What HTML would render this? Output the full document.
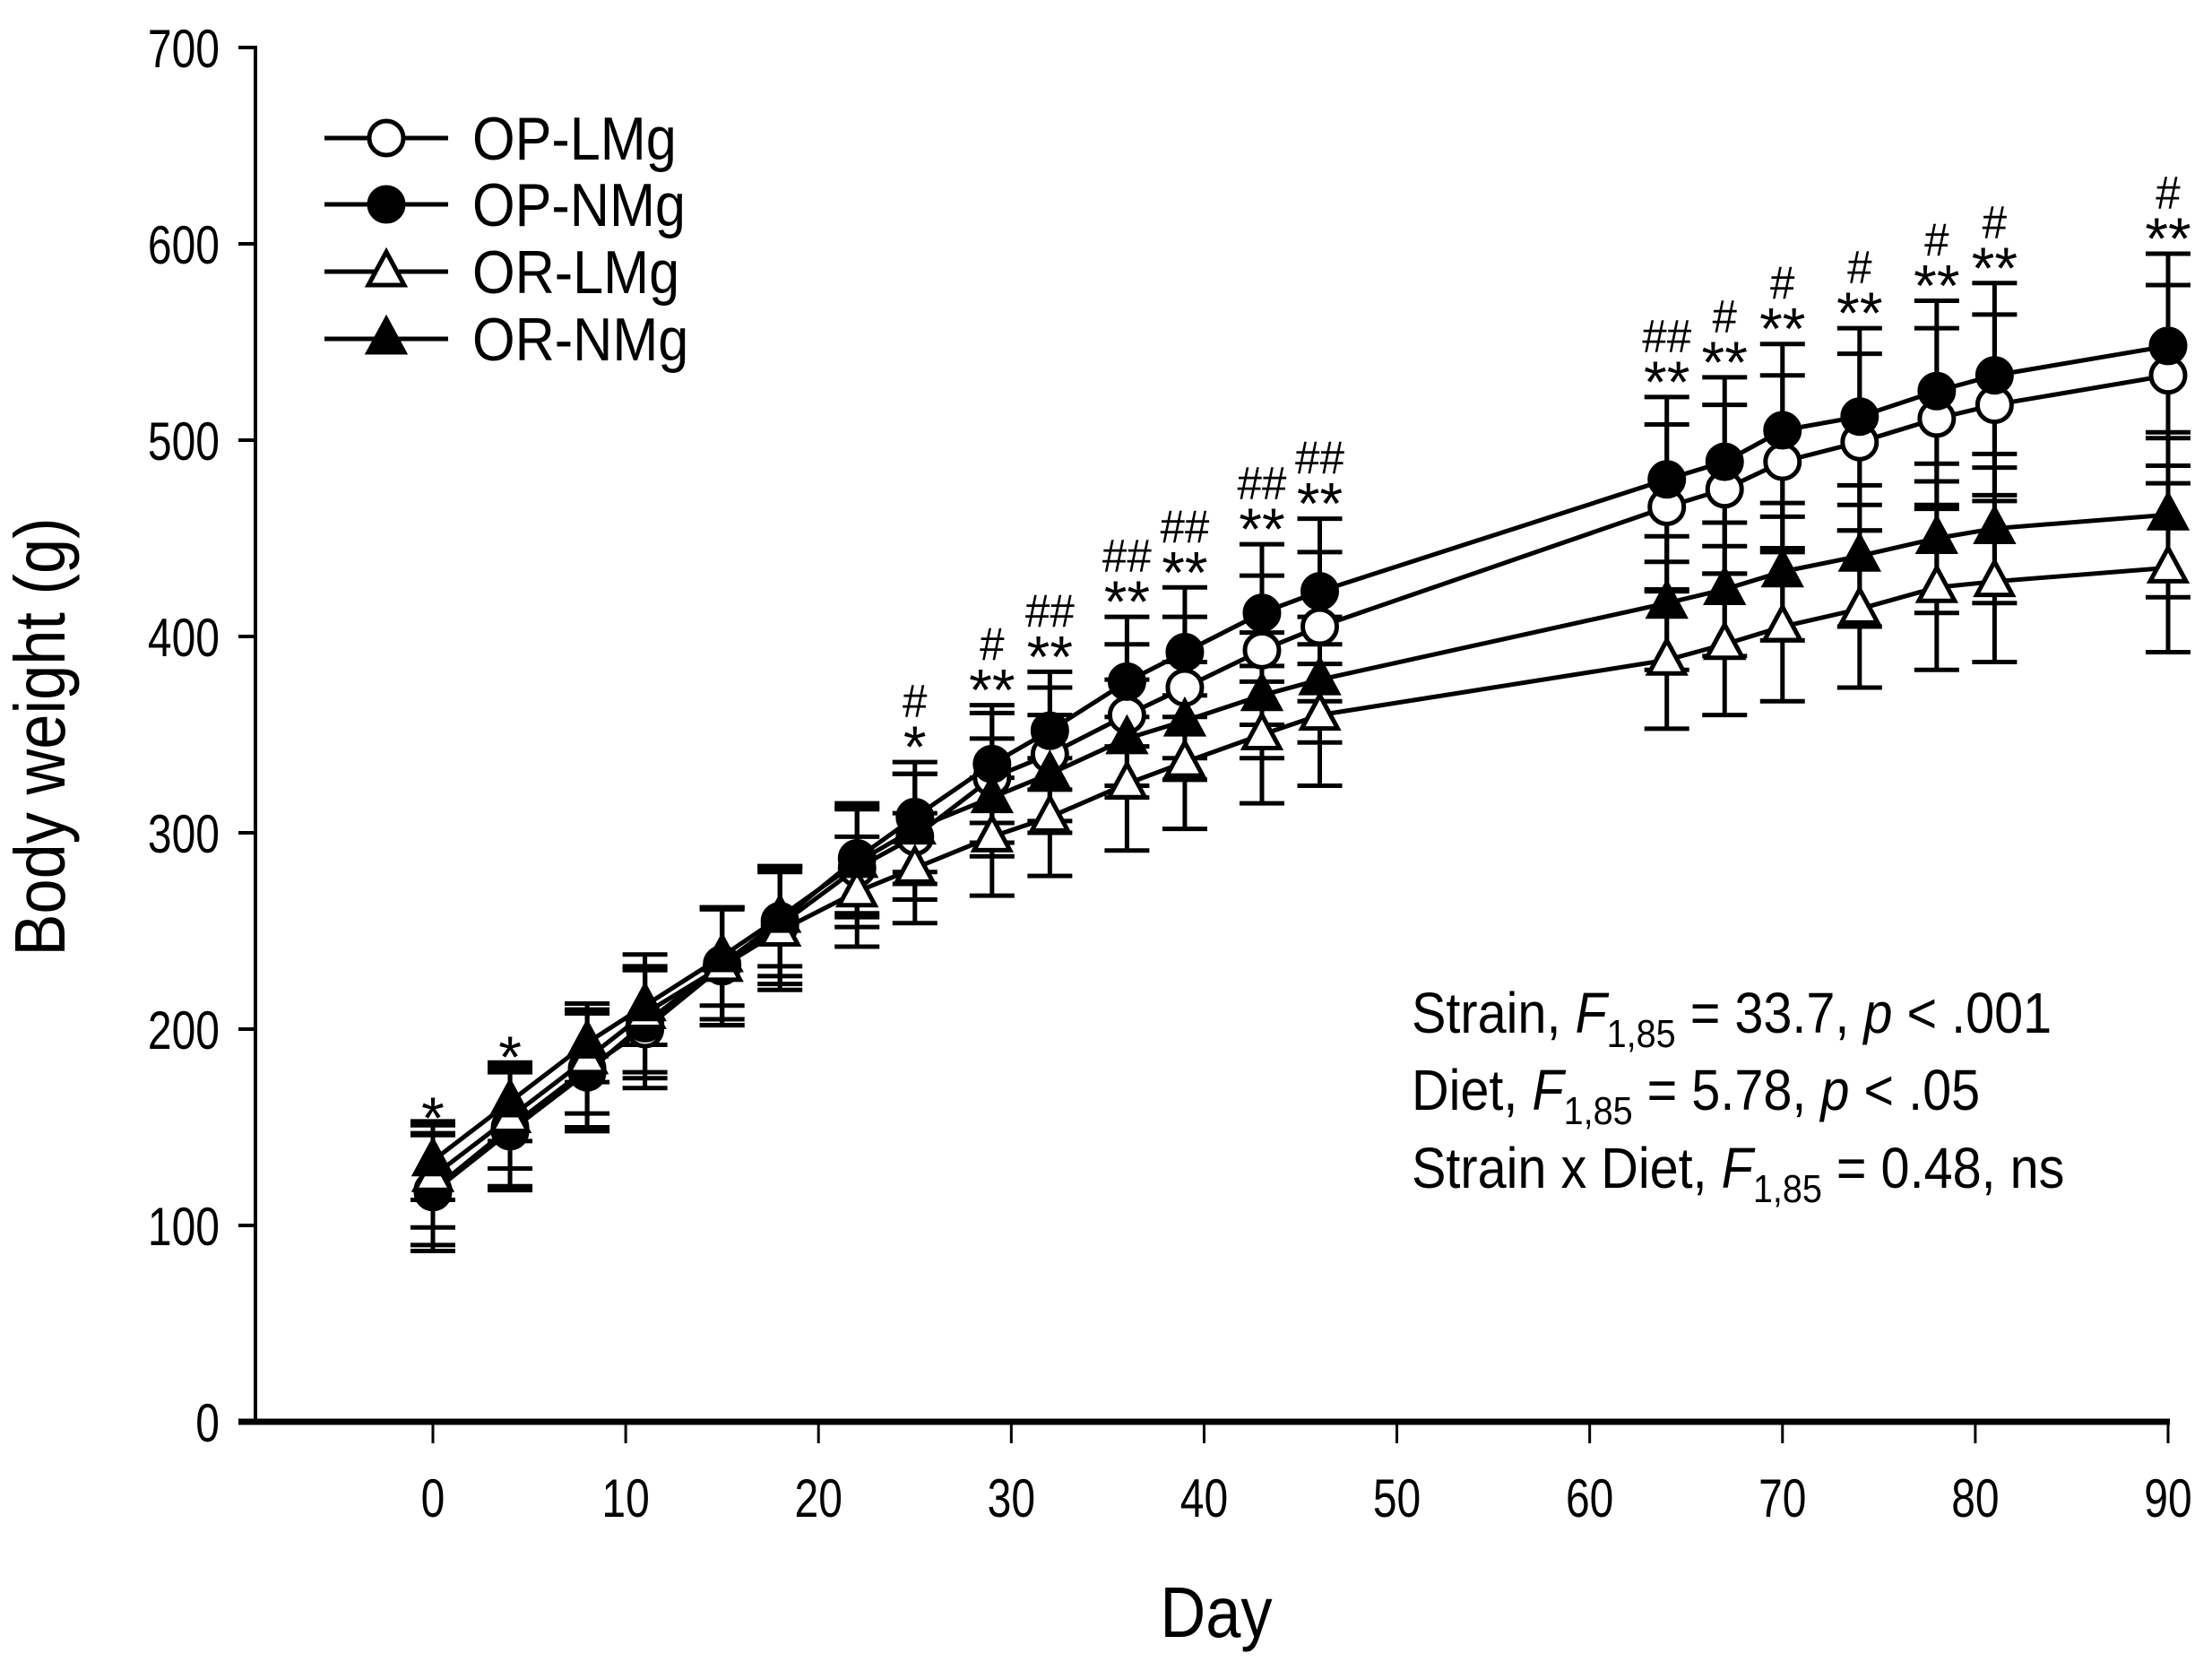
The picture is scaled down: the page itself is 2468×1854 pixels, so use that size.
<!DOCTYPE html>
<html><head><meta charset="utf-8">
<style>
html,body{margin:0;padding:0;background:#fff;}
svg{display:block;font-family:"Liberation Sans",Arial,sans-serif;}
</style></head>
<body>
<svg id="chart" width="2468" height="1854" viewBox="0 0 2468 1854" xmlns="http://www.w3.org/2000/svg">
<rect width="2468" height="1854" fill="#fff"/>
<g id="plot"></g>
</svg>
<script>
const days = [0,4,8,11,15,18,22,25,29,32,36,39,43,46,64,67,70,74,78,81,90];
const opLMg = [118,150,180,200,232,253,282,298,328,340,360,374,393,405,466,475,489,499,511,518,533];
const opNMg = [117,148,178,203,233,255,287,308,335,352,377,392,412,423,480,489,505,512,525,533,548];
const orLMg = [125,155,185,208,232,250,270,282,298,308,325,336,350,360,388,396,405,414,425,428,435];
const orNMg = [133,163,193,212,237,257,285,302,318,330,348,357,370,378,417,424,433,441,450,455,462];
const opLMgErr = [28,30,30,30,30,30,30,32,33,34,36,36,38,38,42,43,44,45,46,46,46];
const opNMgErr = [30,30,30,28,28,28,28,28,30,30,33,33,35,37,42,43,44,45,46,47,47];
const orLMgErr = [26,26,28,30,30,30,28,28,30,30,34,34,35,36,35,36,38,40,42,41,43];
const orNMgErr = [20,20,20,20,25,25,28,28,30,30,30,30,32,32,34,34,35,36,38,38,42];
const starLabels = ["*","*","","","","","","*","**","**","**","**","**","**","**","**","**","**","**","**","**"];
const hashLabels = ["","","","","","","","#","#","##","##","##","##","##","##","#","#","#","#","#","#"];
const yTicks = [0,100,200,300,400,500,600,700];
const xTicks = [0,10,20,30,40,50,60,70,80,90];

const NS="http://www.w3.org/2000/svg";
const g=document.getElementById('plot');
const X0=483,X1=2419,Y0=1586,YPER=2.19;
const xs=d=>X0+d*(X1-X0)/90;
const ys=v=>Y0-v*YPER;
function mk(tag,attrs,parent){const e=document.createElementNS(NS,tag);for(const k in attrs)e.setAttribute(k,attrs[k]);(parent||g).appendChild(e);return e;}
function txt(x,y,s,size,anchor,sx){const t=mk('text',{x:0,y:0,'font-size':size,'text-anchor':anchor||'start',transform:`translate(${x},${y}) scale(${sx||0.8},1)`});t.textContent=s;return t;}

let e=mk('line',{x1:285,y1:Y0,x2:285,y2:ys(700),stroke:'#000','stroke-width':4});

e=mk('line',{x1:266,y1:Y0,x2:X1+2,y2:Y0,stroke:'#000','stroke-width':7});

yTicks.forEach(v=>{
  const t=mk('line',{x1:266,y1:ys(v),x2:287,y2:ys(v),stroke:'#000','stroke-width':4});
  
  const l=txt(245,ys(v)+22,String(v),60,'end',0.8);
  
});
xTicks.forEach(v=>{
  const t=mk('line',{x1:xs(v),y1:Y0,x2:xs(v),y2:1610,stroke:'#000','stroke-width':3});
  
  const l=txt(xs(v),1692,String(v),60,'middle',0.8);
  
});
e=txt(1357,1826,'Day',80,'middle',0.88);

e=mk('text',{x:0,y:0,'font-size':80,'text-anchor':'middle',transform:'translate(72,822) rotate(-90) scale(0.88,1)'});
e.textContent='Body weight (g)';


const series=[
 {name:'op-lmg',vals:opLMg,err:opLMgErr,shape:'circle',fill:'#fff'},
 {name:'op-nmg',vals:opNMg,err:opNMgErr,shape:'circle',fill:'#000'},
 {name:'or-lmg',vals:orLMg,err:orLMgErr,shape:'tri',fill:'#fff'},
 {name:'or-nmg',vals:orNMg,err:orNMgErr,shape:'tri',fill:'#000'}];

function marker(x,y,shape,fill,parent){
  if(shape==='circle') return mk('circle',{cx:x,cy:y,r:19,fill:fill,stroke:'#000','stroke-width':5},parent);
  return mk('polygon',{points:`${x},${y-22} ${x+20},${y+15} ${x-20},${y+15}`,fill:fill,stroke:'#000','stroke-width':5,'stroke-linejoin':'miter'},parent);
}
series.forEach(s=>{
  const eg=mk('g',{});
  
  days.forEach((d,i)=>{
    const x=xs(d),hi=ys(s.vals[i]+s.err[i]),lo=ys(s.vals[i]-s.err[i]);
    const b=mk('path',{d:`M${x},${hi}V${lo}M${x-25},${hi}H${x+25}M${x-25},${lo}H${x+25}`,stroke:'#000','stroke-width':5,fill:'none'},eg);
    
  });
});
series.forEach(s=>{
  const sg=mk('g',{});
  
  const p=mk('polyline',{points:days.map((d,i)=>xs(d)+','+ys(s.vals[i])).join(' '),fill:'none',stroke:'#000','stroke-width':5},sg);
  
  days.forEach((d,i)=>{
    const m=marker(xs(d),ys(s.vals[i]),s.shape,s.fill,sg);
    
  });
});
days.forEach((d,i)=>{
  const top=ys(opNMg[i]+opNMgErr[i]);
  if(starLabels[i]){const t=txt(xs(d),top+6,starLabels[i],66,'middle',1);
    }
  if(hashLabels[i]){const t=txt(xs(d),top-50,hashLabels[i],52,'middle',0.95);
    }
});
const lg=mk('g',{});

const legNames=['OP-LMg','OP-NMg','OR-LMg','OR-NMg'];
const legY=[154,228,303,378];
series.forEach((s,i)=>{
  const ent=mk('g',{},lg);
  
  mk('line',{x1:362,y1:legY[i],x2:500,y2:legY[i],stroke:'#000','stroke-width':5},ent);
  marker(431,legY[i],s.shape,s.fill,ent);
  const t=mk('text',{x:0,y:0,'font-size':68,transform:`translate(527,${legY[i]+24}) scale(0.9,1)`},ent);
  t.textContent=legNames[i];
});
</script>
<svg style="position:absolute;left:0;top:0" width="2468" height="1854">
<g font-family="Liberation Sans, Arial, sans-serif" font-size="64">
<text transform="translate(1575,1152) scale(0.9,1)">Strain, <tspan font-style="italic">F</tspan><tspan font-size="44" dy="16">1,85</tspan><tspan dy="-16"> = 33.7, </tspan><tspan font-style="italic">p</tspan> &lt; .001</text>
<text transform="translate(1575,1238) scale(0.9,1)">Diet, <tspan font-style="italic">F</tspan><tspan font-size="44" dy="16">1,85</tspan><tspan dy="-16"> = 5.78, </tspan><tspan font-style="italic">p</tspan> &lt; .05</text>
<text transform="translate(1575,1325) scale(0.9,1)">Strain x Diet, <tspan font-style="italic">F</tspan><tspan font-size="44" dy="16">1,85</tspan><tspan dy="-16"> = 0.48, ns</tspan></text>
</g></svg>
</body></html>
